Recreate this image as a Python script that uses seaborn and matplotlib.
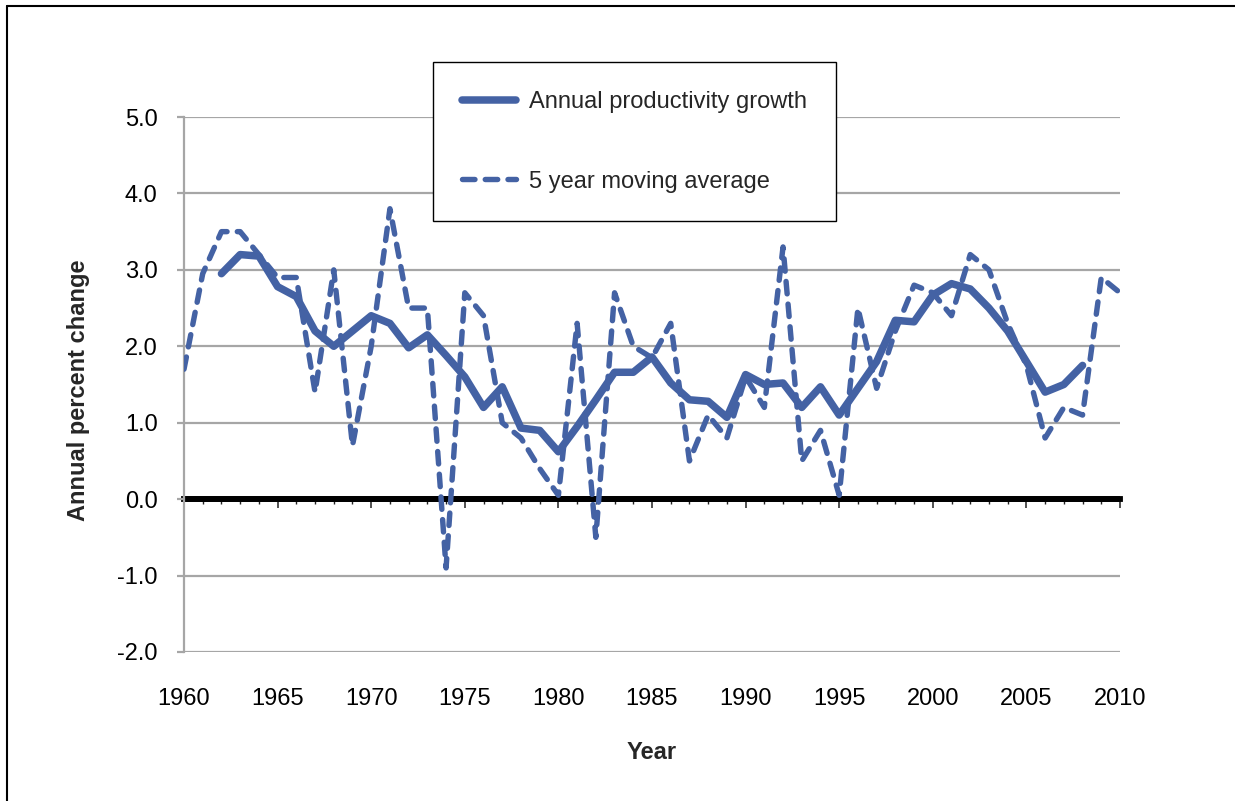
import numpy as np
import pandas as pd
import matplotlib
matplotlib.use("Agg")
import matplotlib.pyplot as plt
from matplotlib.lines import Line2D
from matplotlib.ticker import MultipleLocator, FormatStrFormatter
import seaborn as sns

# ---- data -------------------------------------------------------------
years_smooth = list(range(1962, 2009))
productivity_growth = [
    2.95, 3.20, 3.18, 2.78, 2.65, 2.20, 2.00, 2.20, 2.40, 2.30,
    1.98, 2.15, 1.88, 1.60, 1.20, 1.47, 0.93, 0.90, 0.62, 0.95,
    1.30, 1.66, 1.66, 1.86, 1.52, 1.30, 1.28, 1.07, 1.63, 1.50,
    1.52, 1.20, 1.47, 1.10, 1.45, 1.80, 2.34, 2.32, 2.67, 2.82,
    2.75, 2.50, 2.20, 1.80, 1.40, 1.50, 1.75,
]

years_all = list(range(1960, 2011))
moving_average = [
    1.70, 2.95, 3.50, 3.50, 3.20, 2.90, 2.90, 1.40, 3.00, 0.70,
    2.00, 3.80, 2.50, 2.50, -0.90, 2.70, 2.40, 1.00, 0.80, 0.40,
    0.05, 2.30, -0.50, 2.70, 2.00, 1.85, 2.30, 0.50, 1.10, 0.80,
    1.60, 1.20, 3.30, 0.50, 0.90, 0.05, 2.50, 1.45, 2.20, 2.80,
    2.70, 2.40, 3.20, 3.00, 2.30, 1.75, 0.80, 1.20, 1.10, 2.90,
    2.70,
]

label_solid = "Annual productivity growth"
label_dashed = "5 year moving average"
x_label = "Year"
y_label = "Annual percent change"

df_solid = pd.DataFrame({"year": years_smooth, "value": productivity_growth})
df_dashed = pd.DataFrame({"year": years_all, "value": moving_average})

# ---- style ------------------------------------------------------------
sns.set_theme(style="white")
plt.rcParams["font.family"] = ["Liberation Sans", "DejaVu Sans"]
plt.rcParams["font.size"] = 17

line_color = "#4462A4"
grid_color = "#A6A6A6"

fig = plt.figure(figsize=(12.35, 8.01), dpi=100)
ax = fig.add_axes([184 / 1235, 1 - 652 / 801, (1120 - 184) / 1235, (652 - 117) / 801])

sns.lineplot(data=df_dashed, x="year", y="value", ax=ax, color=line_color,
             linewidth=3.9, label=label_dashed)
dashed_line = ax.lines[-1]
dashed_line.set_linestyle((0, (2.3, 1.9)))
dashed_line.set_dash_capstyle("round")
dashed_line.set_dash_joinstyle("round")
dashed_line.set_zorder(3)

sns.lineplot(data=df_solid, x="year", y="value", ax=ax, color=line_color,
             linewidth=5.4, label=label_solid)
solid_line = ax.lines[-1]
solid_line.set_solid_joinstyle("round")
solid_line.set_solid_capstyle("round")
solid_line.set_zorder(4)

ymin, ymax = -2.0, 5.0
ax.set_xlim(1960, 2010)
ax.set_ylim(ymin, ymax)

# y axis
ax.yaxis.set_major_locator(MultipleLocator(1.0))
ax.yaxis.set_major_formatter(FormatStrFormatter("%.1f"))
ax.grid(axis="y", color=grid_color, linewidth=1.6)
ax.grid(axis="x", visible=False)
for side in ("top", "right", "bottom"):
    ax.spines[side].set_visible(False)
ax.spines["left"].set_color(grid_color)
ax.spines["left"].set_linewidth(1.6)
ax.tick_params(axis="y", which="major", left=True, length=5, width=1.6,
               color=grid_color, pad=14, labelsize=17, labelcolor="black")

# x tick labels sit below the plotting area
ax.xaxis.set_major_locator(MultipleLocator(5))
ax.tick_params(axis="x", which="both", length=0, pad=26, labelsize=17,
               labelcolor="black")

ax.set_xlabel(x_label, fontsize=17, fontweight="bold")
ax.set_ylabel(y_label, fontsize=17, fontweight="bold")
ax.xaxis.set_label_coords(0.5, -0.166)
ax.yaxis.set_label_coords(-0.1005, 0.49)

# heavy zero axis carrying the year tick marks
ax.axhline(0, color="black", linewidth=4.2, zorder=2.5)
zero_frac = (0 - ymin) / (ymax - ymin)
zero_axis = ax.secondary_xaxis(zero_frac)
zero_axis.spines["bottom"].set_linewidth(4.2)
zero_axis.spines["bottom"].set_color("black")
zero_axis.xaxis.set_major_locator(MultipleLocator(5))
zero_axis.xaxis.set_minor_locator(MultipleLocator(1))
zero_axis.tick_params(axis="x", which="major", length=6.5, width=1.1,
                      color="#222222", labelbottom=False, direction="out")
zero_axis.tick_params(axis="x", which="minor", length=3.5, width=1.0,
                      color="#222222", direction="out")

# legend
handles, labels = ax.get_legend_handles_labels()
order = [labels.index(label_solid), labels.index(label_dashed)]
leg = ax.legend([handles[i] for i in order], [labels[i] for i in order],
                loc="upper left", bbox_to_anchor=(433 / 1235, 1 - 62 / 801),
                bbox_transform=fig.transFigure, borderaxespad=0,
                fontsize=17, frameon=True, fancybox=False, framealpha=1,
                edgecolor="black", handlelength=2.3, handletextpad=0.55,
                labelspacing=2.45, borderpad=1.22)
leg.get_frame().set_linewidth(1.0)
leg.set_zorder(10)

# outer frame: top and left edges
fig.add_artist(Line2D([6.5 / 1235, 1.0], [1 - 5.5 / 801, 1 - 5.5 / 801],
                      transform=fig.transFigure, color="black", linewidth=1.5))
fig.add_artist(Line2D([6.5 / 1235, 6.5 / 1235], [0.0, 1 - 5.5 / 801],
                      transform=fig.transFigure, color="black", linewidth=1.5))

fig.savefig("out.png", dpi=100)
